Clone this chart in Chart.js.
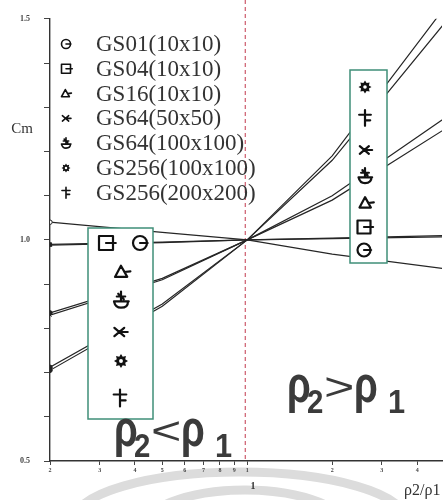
<!DOCTYPE html>
<html>
<head>
<meta charset="utf-8">
<script src="https://cdn.jsdelivr.net/npm/chart.js@4.4.1/dist/chart.umd.min.js"></script>
<style>
  html, body { margin: 0; padding: 0; background: #fff; overflow: hidden; }
  canvas { display: block; }
</style>
</head>
<body>
<canvas id="cmChart" width="447" height="500"></canvas>
<script>
// ===============================
// Data: Cm against density ratio p2/p1
// ===============================
const ratios = [0.2, 0.5, 1, 2, 5];

const seriesNames = [
  "GS01(10x10)", "GS04(10x10)", "GS16(10x10)", "GS64(50x50)",
  "GS64(100x100)", "GS256(100x100)", "GS256(200x200)"
];
const seriesSymbols = ["circ", "sq", "tri", "x", "bowl", "gear", "dagger"];

const gs01_10 = [1.04, 1.017, 1.0, 0.968, 0.935];
const gs04_10 = [0.99, 0.995, 1.0, 1.003, 1.007];
const gs16_10 = [0.988, 0.994, 1.0, 1.004, 1.01];
const gs64_50 = [0.83, 0.91, 1.0, 1.09, 1.25];
const gs64_100 = [0.835, 0.913, 1.0, 1.10, 1.275];
const gs256_100 = [0.705, 0.85, 1.0, 1.19, 1.525];
const gs256_200 = [0.712, 0.855, 1.0, 1.18, 1.49];
const seriesValues = [gs01_10, gs04_10, gs16_10, gs64_50, gs64_100, gs256_100, gs256_200];

const xTickVals = [0.2, 0.3, 0.4, 0.5, 0.6, 0.7, 0.8, 0.9, 1, 2, 3, 4];
const xTickLabels = ["2", "3", "4", "5", "6", "7", "8", "9", "1", "2", "3", "4"];
const yTickVals = [0.5, 0.6, 0.7, 0.8, 0.9, 1.0, 1.1, 1.2, 1.3, 1.4, 1.5];
const yTickLabels = ["0.5", "", "", "", "", "1.0", "", "", "", "", "1.5"];

const pointStyles = ["circle", "rect", "triangle", "crossRot", "circle", "circle", "circle"];

// ===============================
// Symbol glyphs
// ===============================
function drawSymbol(ctx, kind, x, y, s, lw) {
  ctx.save();
  ctx.strokeStyle = "#111";
  ctx.fillStyle = "#111";
  ctx.lineWidth = lw;
  ctx.lineCap = "round";
  ctx.lineJoin = "round";
  ctx.beginPath();
  if (kind === "circ") {
    ctx.arc(x, y, s, 0, Math.PI * 2);
    ctx.moveTo(x, y);
    ctx.lineTo(x + s * 1.1, y);
    ctx.stroke();
  } else if (kind === "sq") {
    ctx.rect(x - s, y - s, s * 2, s * 2);
    ctx.moveTo(x, y);
    ctx.lineTo(x + s * 1.4, y);
    ctx.stroke();
  } else if (kind === "tri") {
    ctx.moveTo(x - s * 0.15, y - s * 0.9);
    ctx.lineTo(x + s * 0.75, y + s * 0.7);
    ctx.lineTo(x - s, y + s * 0.7);
    ctx.closePath();
    ctx.moveTo(x + s * 0.35, y);
    ctx.lineTo(x + s * 1.2, y - s * 0.1);
    ctx.stroke();
  } else if (kind === "x") {
    ctx.moveTo(x - s * 0.8, y - s * 0.6);
    ctx.lineTo(x + s * 0.6, y + s * 0.6);
    ctx.moveTo(x - s * 0.8, y + s * 0.6);
    ctx.lineTo(x + s * 0.6, y - s * 0.6);
    ctx.moveTo(x, y);
    ctx.lineTo(x + s * 1.1, y);
    ctx.stroke();
  } else if (kind === "bowl") {
    ctx.moveTo(x - s, y + s * 0.2);
    ctx.lineTo(x + s * 1.1, y + s * 0.2);
    ctx.moveTo(x - s, y + s * 0.2);
    ctx.quadraticCurveTo(x - s * 0.8, y + s * 1.1, x, y + s * 1.1);
    ctx.quadraticCurveTo(x + s, y + s * 1.1, x + s, y + s * 0.2);
    ctx.moveTo(x, y - s * 1.2);
    ctx.lineTo(x, y + s * 0.2);
    ctx.moveTo(x - s * 0.6, y - s * 0.5);
    ctx.lineTo(x + s * 0.6, y - s * 0.5);
    ctx.moveTo(x - s * 0.4, y - s * 0.9);
    ctx.lineTo(x + s * 0.4, y - s * 0.1);
    ctx.stroke();
  } else if (kind === "gear") {
    for (let i = 0; i < 16; i++) {
      const r = i % 2 === 0 ? s : s * 0.65;
      const a = (i / 16) * Math.PI * 2 - Math.PI / 2;
      const px = x + r * Math.cos(a);
      const py = y + r * Math.sin(a);
      if (i === 0) ctx.moveTo(px, py); else ctx.lineTo(px, py);
    }
    ctx.closePath();
    ctx.fill();
    ctx.fillStyle = "#fff";
    ctx.beginPath();
    ctx.arc(x, y, s * 0.28, 0, Math.PI * 2);
    ctx.fill();
  } else if (kind === "dagger") {
    ctx.moveTo(x, y - s * 1.2);
    ctx.lineTo(x, y + s * 1.2);
    ctx.moveTo(x - s * 0.9, y - s * 0.5);
    ctx.lineTo(x + s * 0.9, y - s * 0.5);
    ctx.moveTo(x, y + s * 0.35);
    ctx.lineTo(x + s * 0.8, y + s * 0.35);
    ctx.stroke();
  }
  ctx.restore();
}

// relation text like p2<p1 with stretched glyphs
function drawRelation(ctx, x, yb, rel) {
  ctx.save();
  ctx.fillStyle = "#3b3b3b";
  ctx.textBaseline = "alphabetic";
  const piece = (txt, px, base, font, sx, sy) => {
    ctx.save();
    ctx.font = font;
    ctx.translate(px, base);
    ctx.scale(sx, sy);
    ctx.fillText(txt, 0, 0);
    ctx.restore();
  };
  piece("\u03C1", x, yb - 11, 'bold 35px "Liberation Sans"', 1.1, 1.5);
  piece("2", x + 20, yb, 'bold 28px "Liberation Sans"', 1.05, 1.2);
  piece(rel, x + 37, yb - 13, '40px "Liberation Sans"', 1.3, 0.95);
  piece("\u03C1", x + 67, yb - 11, 'bold 35px "Liberation Sans"', 1.1, 1.5);
  piece("1", x + 101, yb, 'bold 28px "Liberation Sans"', 1.1, 1.2);
  ctx.restore();
}

// ===============================
// Overlays: dashed marker, boxes, legend, labels
// ===============================
const overlayPlugin = {
  id: "overlay",
  beforeDraw(chart) {
    const ctx = chart.ctx;
    ctx.save();
    ctx.strokeStyle = "#dcdcdc";
    ctx.lineWidth = 9;
    ctx.beginPath();
    ctx.ellipse(240, 520, 165, 48, 0, Math.PI, Math.PI * 2);
    ctx.stroke();
    ctx.beginPath();
    ctx.ellipse(245, 532, 105, 42, 0, Math.PI, Math.PI * 2);
    ctx.stroke();
    ctx.restore();
  },
  beforeDatasetsDraw(chart) {
    const ctx = chart.ctx;
    const xs = chart.scales.x;
    const px = xs.getPixelForValue(1) - 2;
    ctx.save();
    ctx.strokeStyle = "#c23a4e";
    ctx.lineWidth = 1;
    ctx.setLineDash([4, 3]);
    ctx.beginPath();
    ctx.moveTo(px, 0);
    ctx.lineTo(px, chart.chartArea.bottom);
    ctx.stroke();
    ctx.restore();
  },
  afterDatasetsDraw(chart) {
    const ctx = chart.ctx;
    ctx.save();

    // boxes holding the symbol keys
    ctx.fillStyle = "#fff";
    ctx.strokeStyle = "#3f8f78";
    ctx.lineWidth = 1.5;
    ctx.fillRect(88, 228, 65, 191);
    ctx.strokeRect(88, 228, 65, 191);
    ctx.fillRect(350, 70, 37, 193);
    ctx.strokeRect(350, 70, 37, 193);

    const leftBox = [
      ["sq", 106, 243], ["circ", 140, 243], ["tri", 122, 272], ["bowl", 121, 300],
      ["x", 120, 332], ["gear", 121, 361], ["dagger", 120, 398]
    ];
    leftBox.forEach(([k, x, y]) => drawSymbol(ctx, k, x, y, 7, 2.2));
    const rightBox = [
      ["gear", 365, 87], ["dagger", 365, 118], ["x", 365, 150], ["bowl", 365, 176],
      ["tri", 366, 203], ["sq", 364, 227], ["circ", 364, 250]
    ];
    rightBox.forEach(([k, x, y]) => drawSymbol(ctx, k, x, y, 6.5, 2.2));

    // legend
    chart.data.datasets.forEach((ds, i) => {
      const y = 44 + i * 24.8;
      drawSymbol(ctx, seriesSymbols[i], 66, y, 4.5, 1.6);
      ctx.font = '23px "Liberation Serif"';
      ctx.fillStyle = "#333";
      ctx.textAlign = "left";
      ctx.textBaseline = "middle";
      ctx.fillText(ds.label, 96, y + 1);
    });

    // axis captions
    ctx.fillStyle = "#333";
    ctx.textBaseline = "middle";
    ctx.textAlign = "center";
    ctx.font = '15px "Liberation Serif"';
    ctx.fillText("Cm", 22, 129);
    ctx.font = 'bold 10px "Liberation Serif"';
    ctx.fillText("1", 253, 486);
    ctx.textAlign = "left";
    ctx.font = '16px "Liberation Serif"';
    ctx.fillText("\u03C12/\u03C11", 404, 491);

    drawRelation(ctx, 114, 457, "<");
    drawRelation(ctx, 287, 413, ">");
    ctx.restore();
  }
};

// ===============================
// Chart
// ===============================
const datasets = seriesValues.map((vals, i) => ({
  label: seriesNames[i],
  data: ratios.map((r, j) => ({ x: r, y: vals[j] })),
  borderColor: "#262626",
  borderWidth: 1.2,
  pointStyle: pointStyles[i],
  pointRadius: ratios.map((r, j) => (j === 0 ? 2.2 : 0)),
  pointBackgroundColor: i === 0 ? "#fff" : "#222",
  pointBorderColor: "#222",
  pointBorderWidth: 1,
  tension: 0
}));

new Chart(document.getElementById("cmChart"), {
  type: "line",
  data: { datasets },
  options: {
    responsive: false,
    animation: false,
    layout: { padding: { top: 15, right: 0, left: 0, bottom: 0 } },
    plugins: { legend: { display: false }, tooltip: { enabled: false } },
    scales: {
      x: {
        type: "logarithmic",
        min: 0.2,
        max: 4.9,
        afterBuildTicks: (s) => { s.ticks = xTickVals.map(v => ({ value: v })); },
        afterFit: (s) => { s.height = 39; },
        ticks: {
          autoSkip: false,
          maxRotation: 0,
          padding: 2,
          color: "#444",
          font: { size: 6, family: "Liberation Serif", weight: "bold" },
          callback: (v, i) => xTickLabels[i]
        },
        grid: { drawOnChartArea: false, tickLength: 4, color: "#444" },
        border: { color: "#333", width: 1.4 }
      },
      y: {
        min: 0.5,
        max: 1.5,
        afterBuildTicks: (s) => { s.ticks = yTickVals.map(v => ({ value: v })); },
        afterFit: (s) => { s.width = 50; },
        ticks: {
          autoSkip: false,
          padding: 14,
          color: "#444",
          font: { size: 8, family: "Liberation Serif", weight: "bold" },
          callback: (v, i) => yTickLabels[i]
        },
        grid: { drawOnChartArea: false, tickLength: 6, color: "#444" },
        border: { color: "#333", width: 1.4 }
      }
    }
  },
  plugins: [overlayPlugin]
});
</script>
</body>
</html>
